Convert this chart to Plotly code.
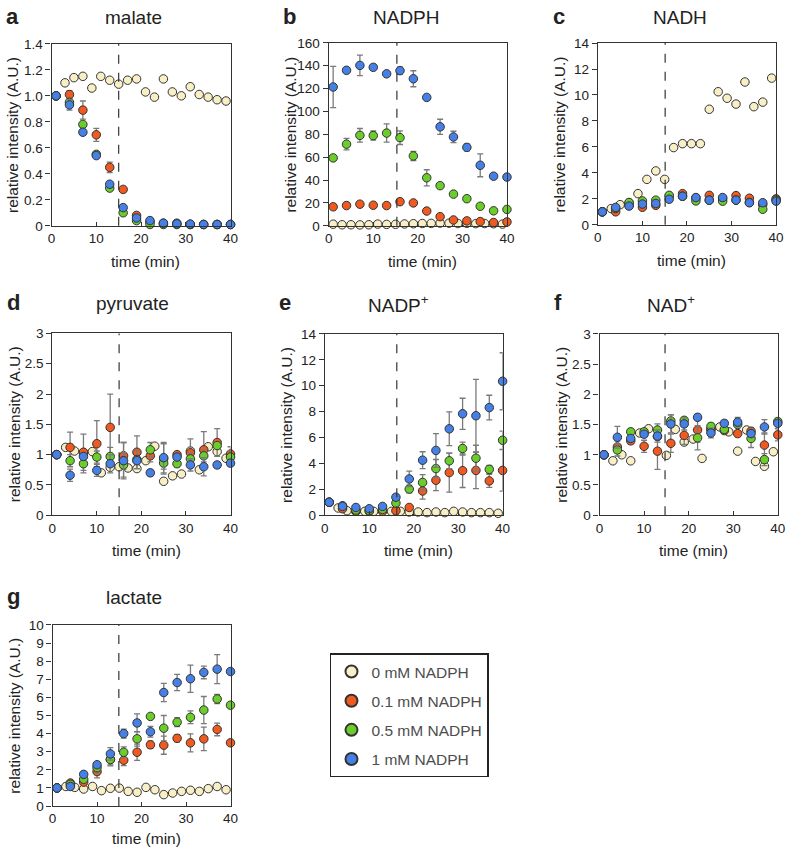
import plotly.graph_objects as go

# ---------------- data ----------------
t_ctrl = [1, 3, 5, 7, 9, 11, 13, 15, 17, 19, 21, 23, 25, 27, 29, 31, 33, 35, 37, 39]
t_trt = [1, 4, 7, 10, 13, 16, 19, 22, 25, 28, 31, 34, 37, 40]
series_names = ["0 mM NADPH", "0.1 mM NADPH", "0.5 mM NADPH", "1 mM NADPH"]
series_colors = ["#F8EFC6", "#F0591F", "#6ACD2A", "#4680E6"]

malate_0 = [1.00, 1.10, 1.14, 1.15, 1.06, 1.15, 1.12, 1.09, 1.12, 1.13, 1.03, 0.99, 1.13, 1.03, 1.00, 1.07, 1.01, 0.99, 0.97, 0.96]
malate_01 = [1.00, 1.01, 0.89, 0.70, 0.45, 0.28, 0.08, 0.03, 0.02, 0.02, 0.01, 0.01, 0.01, 0.01]
malate_05 = [1.00, 0.95, 0.78, 0.55, 0.29, 0.10, 0.04, 0.01, 0.01, 0.01, 0.01, 0.01, 0.01, 0.01]
malate_1 = [1.00, 0.93, 0.72, 0.54, 0.32, 0.14, 0.06, 0.04, 0.02, 0.015, 0.013, 0.01, 0.01, 0.01]
malate_01_err = [0, 0.03, 0.07, 0.05, 0.04, 0.02, 0.02, 0, 0, 0, 0, 0, 0, 0]
malate_05_err = [0, 0.03, 0.02, 0.02, 0.02, 0.01, 0.01, 0, 0, 0, 0, 0, 0, 0]
malate_1_err = [0, 0.04, 0.02, 0.02, 0.02, 0.01, 0.01, 0, 0, 0, 0, 0, 0, 0]

nadph_0 = [1.4, 0.9, 0.9, 0.8, 0.9, 1.5, 1.2, 1.3, 1.6, 1.8, 2.0, 2.1, 2.4, 2.3, 2.0, 2.2, 1.9, 2.0, 1.8, 1.5]
nadph_01 = [16.6, 17.7, 18.9, 18.0, 17.7, 21.1, 20.0, 12.9, 8.0, 5.1, 4.3, 3.7, 2.9, 3.4]
nadph_05 = [59.4, 71.4, 79.1, 78.9, 81.1, 77.1, 61.1, 42.0, 35.1, 27.7, 23.7, 17.1, 13.1, 14.3]
nadph_1 = [121.4, 136.0, 140.3, 138.6, 132.9, 135.7, 128.6, 112.3, 86.6, 77.7, 68.6, 52.9, 43.4, 42.6]
nadph_01_err = [2, 1, 1.5, 1, 1, 2, 1.5, 1, 1, 0.8, 0.6, 0.5, 0.5, 0.5]
nadph_05_err = [2, 5, 6, 4, 8, 6, 4, 7, 2, 1.5, 1.5, 1.5, 1.5, 1]
nadph_1_err = [18, 2, 9, 2, 2, 3, 7, 2, 6.6, 5, 3, 10, 2, 2]

nadh_0 = [1.0, 1.25, 1.55, 1.7, 2.4, 3.5, 4.15, 3.5, 5.95, 6.25, 6.25, 6.25, 8.9, 10.25, 9.75, 9.3, 11.0, 9.1, 9.45, 11.3]
nadh_01 = [1.0, 1.0, 1.5, 1.35, 1.5, 2.2, 2.4, 2.07, 2.27, 2.0, 2.25, 2.05, 1.55, 2.0]
nadh_05 = [1.0, 1.26, 1.72, 1.84, 1.9, 2.27, 2.2, 1.84, 1.9, 1.82, 1.9, 1.72, 1.2, 1.9]
nadh_1 = [1.0, 1.34, 1.44, 1.6, 1.64, 1.97, 2.2, 2.1, 1.9, 2.1, 1.9, 1.7, 1.7, 1.82]
nadh_01_err = [0, 0.15, 0.1, 0.1, 0.1, 0.1, 0.1, 0.1, 0.1, 0.1, 0.1, 0.1, 0.1, 0.15]
nadh_05_err = [0, 0.1, 0.1, 0.15, 0.1, 0.1, 0.1, 0.1, 0.1, 0.1, 0.1, 0.1, 0.1, 0.1]
nadh_1_err = [0, 0.2, 0.1, 0.1, 0.1, 0.1, 0.1, 0.1, 0.1, 0.1, 0.1, 0.1, 0.1, 0.15]

pyruvate_0 = [1.0, 1.12, 1.06, 1.03, 1.05, 0.70, 0.79, 0.80, 0.78, 0.77, 0.90, 1.14, 0.56, 0.65, 0.68, 1.06, 0.75, 1.13, 1.05, 0.94]
pyruvate_01 = [1.0, 1.12, 1.04, 1.18, 1.45, 0.98, 1.04, 0.98, 0.93, 1.0, 1.03, 1.08, 1.2, 1.01]
pyruvate_05 = [1.0, 0.90, 0.85, 0.96, 0.97, 0.83, 0.92, 1.08, 0.86, 0.85, 0.93, 0.98, 1.15, 0.96]
pyruvate_1 = [1.0, 0.66, 0.97, 0.74, 0.85, 0.90, 0.90, 0.70, 0.95, 0.96, 0.83, 0.80, 0.83, 0.86]
pyruvate_01_err = [0, 0.25, 0.3, 0.38, 0.55, 0.22, 0.27, 0.1, 0.25, 0.05, 0.23, 0.3, 0.23, 0.12]
pyruvate_05_err = [0, 0.1, 0.15, 0.1, 0.15, 0.2, 0.15, 0.12, 0.1, 0.05, 0.1, 0.1, 0.05, 0.1]
pyruvate_1_err = [0, 0.1, 0.05, 0.1, 0.15, 0.3, 0.05, 0.05, 0.25, 0.05, 0.1, 0.15, 0.05, 0.05]

nadp_0 = [1.0, 0.56, 0.35, 0.3, 0.3, 0.3, 0.35, 0.3, 0.3, 0.25, 0.25, 0.2, 0.25, 0.2, 0.3, 0.25, 0.2, 0.2, 0.2, 0.15]
nadp_01 = [1.0, 0.5, 0.3, 0.3, 0.3, 0.35, 0.6, 1.87, 2.7, 3.29, 3.44, 3.46, 2.65, 3.46]
nadp_05 = [1.0, 0.73, 0.4, 0.35, 0.45, 0.94, 2.02, 2.53, 3.6, 4.2, 5.15, 4.4, 3.54, 5.79]
nadp_1 = [1.0, 0.68, 0.6, 0.5, 0.68, 1.39, 2.8, 4.25, 5.0, 6.67, 7.83, 7.68, 8.31, 10.34]
nadp_01_err = [0, 0.1, 0.05, 0.05, 0.1, 0.1, 0.1, 0.63, 0.8, 1.5, 1.3, 1.4, 0.5, 1.6]
nadp_05_err = [0, 0.1, 0.05, 0.05, 0.1, 0.1, 0.3, 0.6, 0.7, 0.6, 0.5, 1.0, 0.3, 0.7]
nadp_1_err = [0, 0.1, 0.05, 0.05, 0.1, 0.2, 0.6, 0.65, 1.3, 1.3, 1.2, 2.8, 0.95, 2.2]

nad_0 = [1.0, 0.9, 1.0, 0.9, 1.36, 1.43, 1.3, 0.99, 1.42, 1.21, 1.26, 0.94, 1.43, 1.46, 1.38, 1.06, 1.41, 0.89, 0.81, 1.05]
nad_01 = [1.0, 1.13, 1.23, 1.14, 1.06, 1.19, 1.32, 1.41, 1.41, 1.4, 1.35, 1.39, 1.16, 1.33]
nad_05 = [1.0, 1.08, 1.38, 1.38, 1.41, 1.56, 1.57, 1.28, 1.47, 1.42, 1.5, 1.27, 0.92, 1.55]
nad_1 = [1.0, 1.29, 1.27, 1.34, 1.31, 1.51, 1.51, 1.62, 1.36, 1.52, 1.54, 1.35, 1.46, 1.52]
nad_01_err = [0, 0.1, 0.05, 0.1, 0.3, 0.15, 0.15, 0.2, 0.05, 0.05, 0.05, 0.05, 0.2, 0.1]
nad_05_err = [0, 0.1, 0.05, 0.05, 0.1, 0.1, 0.05, 0.2, 0.05, 0.05, 0.05, 0.15, 0.1, 0.05]
nad_1_err = [0, 0.18, 0.05, 0.05, 0.1, 0.15, 0.1, 0.05, 0.08, 0.05, 0.08, 0.05, 0.12, 0.05]

lactate_0 = [1.0, 1.08, 1.03, 0.94, 1.08, 0.85, 0.98, 0.99, 0.81, 0.76, 1.03, 0.9, 0.63, 0.72, 0.81, 0.87, 0.81, 0.96, 1.08, 0.9]
lactate_01 = [1.0, 1.27, 1.32, 1.9, 2.57, 2.53, 2.97, 3.38, 3.36, 3.74, 3.49, 3.71, 4.23, 3.49]
lactate_05 = [1.0, 1.2, 1.48, 2.12, 2.57, 2.97, 3.71, 4.95, 4.3, 4.63, 4.9, 5.3, 5.91, 5.57]
lactate_1 = [1.0, 1.08, 1.75, 2.28, 2.88, 4.0, 4.59, 4.1, 6.27, 6.82, 7.03, 7.38, 7.56, 7.43]
lactate_01_err = [0, 0.1, 0.1, 0.35, 0.3, 0.3, 0.45, 0.2, 0.5, 0.2, 0.5, 0.65, 0.35, 0.1]
lactate_05_err = [0, 0.1, 0.1, 0.3, 0.35, 0.3, 0.4, 0.1, 0.7, 0.25, 0.35, 0.75, 0.25, 0.1]
lactate_1_err = [0, 0.1, 0.1, 0.15, 0.35, 0.25, 0.5, 0.3, 0.5, 0.45, 0.75, 0.35, 0.8, 0.1]

# ---------------- panels ----------------
W, H = 792, 855
panels = [
    dict(letter="a", title="malate", ctrl=malate_0, trt=[malate_01, malate_05, malate_1],
         err=[malate_01_err, malate_05_err, malate_1_err], ymax=1.4, dtick=0.2,
         ticktext=["0", "0.2", "0.4", "0.6", "0.8", "1.0", "1.2", "1.4"],
         px=(48.3, 230), py=(37.5, 222.7), vline=15.0, tdx=-8, ty=11),
    dict(letter="b", title="NADPH", ctrl=nadph_0, trt=[nadph_01, nadph_05, nadph_1],
         err=[nadph_01_err, nadph_05_err, nadph_1_err], ymax=160, dtick=20, ticktext=None,
         px=(329.7, 510.7), py=(36.5, 222.7), vline=15.3, tdx=-12, ty=11),
    dict(letter="c", title="NADH", ctrl=nadh_0, trt=[nadh_01, nadh_05, nadh_1],
         err=[nadh_01_err, nadh_05_err, nadh_1_err], ymax=14, dtick=2, ticktext=None,
         px=(603, 784), py=(36.7, 221.7), vline=15.1, tdx=-7, ty=11),
    dict(letter="d", title="pyruvate", ctrl=pyruvate_0, trt=[pyruvate_01, pyruvate_05, pyruvate_1],
         err=[pyruvate_01_err, pyruvate_05_err, pyruvate_1_err], ymax=3, dtick=0.5,
         ticktext=["0", "0.5", "1", "1.5", "2", "2.5", "3"],
         px=(49, 230), py=(332.3, 517.3), vline=15.0, tdx=-9, ty=302),
    dict(letter="e", title="NADP<sup>+</sup>", ctrl=nadp_0, trt=[nadp_01, nadp_05, nadp_1],
         err=[nadp_01_err, nadp_05_err, nadp_1_err], ymax=14, dtick=2, ticktext=None,
         px=(325.7, 506.3), py=(332.7, 517.3), vline=16.2, tdx=-15, ty=302),
    dict(letter="f", title="NAD<sup>+</sup>", ctrl=nad_0, trt=[nad_01, nad_05, nad_1],
         err=[nad_01_err, nad_05_err, nad_1_err], ymax=3, dtick=0.5,
         ticktext=["0", "0.5", "1", "1.5", "2", "2.5", "3"],
         px=(604.7, 785.7), py=(332.7, 517.3), vline=14.7, tdx=-18, ty=302),
    dict(letter="g", title="lactate", ctrl=lactate_0, trt=[lactate_01, lactate_05, lactate_1],
         err=[lactate_01_err, lactate_05_err, lactate_1_err], ymax=10, dtick=1, ticktext=None,
         px=(49.3, 230), py=(629, 813.3), vline=14.9, tdx=-8, ty=601),
]

FONT = "Liberation Sans, Arial, sans-serif"
AXC = "#333333"
TXT = "#222222"
fig = go.Figure()
annotations = []
shapes = []
layout_axes = {}
NP = len(panels)

for i, p in enumerate(panels):
    n = "" if i == 0 else str(i + 1)
    xa, ya = "x" + n, "y" + n
    x0, x1 = p["px"]
    y0, y1 = p["py"]
    tickfont = dict(family=FONT, size=13.5, color=TXT)
    layout_axes["xaxis" + n] = dict(
        domain=[x0 / W, x1 / W], range=[0, 40], dtick=10, anchor=ya,
        showline=True, linecolor=AXC, linewidth=1.3, mirror=True,
        ticks="inside", ticklen=4, tickwidth=1, tickcolor=AXC,
        showgrid=False, zeroline=False, tickfont=tickfont)
    nt = int(round(p["ymax"] / p["dtick"])) + 1
    tv = [round(k * p["dtick"], 6) for k in range(nt)]
    yax = dict(domain=[1 - y1 / H, 1 - y0 / H], range=[0, p["ymax"]], anchor=xa,
               showline=True, linecolor=AXC, linewidth=1.3, mirror=True,
               ticks="outside", ticklen=5, tickwidth=1, tickcolor=AXC,
               showgrid=False, zeroline=False, tickfont=tickfont, tickvals=tv)
    if p["ticktext"]:
        yax["ticktext"] = p["ticktext"]
    layout_axes["yaxis" + n] = yax
    # right-side inner ticks (mirror axis)
    rn = str(NP + i + 1)
    layout_axes["yaxis" + rn] = dict(
        domain=[1 - y1 / H, 1 - y0 / H], range=[0, p["ymax"]], anchor=xa,
        overlaying=ya, side="right", showline=False, showticklabels=False,
        ticks="inside", ticklen=4, tickwidth=1, tickcolor=AXC, tickvals=tv,
        showgrid=False, zeroline=False)

    # control series
    fig.add_trace(go.Scatter(
        x=t_ctrl, y=p["ctrl"], xaxis=xa, yaxis=ya, mode="markers",
        name=series_names[0], legendgroup=series_names[0], showlegend=(i == 0),
        cliponaxis=False,
        marker=dict(size=8.5, color=series_colors[0], line=dict(color="#333333", width=1))))
    # treated series
    for k in range(3):
        fig.add_trace(go.Scatter(
            x=t_trt, y=p["trt"][k], xaxis=xa, yaxis=ya, mode="markers",
            name=series_names[k + 1], legendgroup=series_names[k + 1], showlegend=(i == 0),
            cliponaxis=False,
            error_y=dict(type="data", array=p["err"][k], color="#7a7a7a", thickness=1.3, width=3),
            marker=dict(size=8.5, color=series_colors[k + 1], line=dict(color="#333333", width=1))))

    # dashed line
    shapes.append(dict(type="line", xref=xa, yref=ya + " domain", x0=p["vline"], x1=p["vline"],
                       y0=0, y1=1, line=dict(color="#333333", width=1.2, dash="dash")))

    # titles and labels
    cx = (x0 + x1) / 2 + p["tdx"]
    annotations.append(dict(text=p["title"], x=cx / W, y=1 - p["ty"] / H, xref="paper", yref="paper",
                            showarrow=False, xanchor="center", yanchor="middle",
                            font=dict(family=FONT, size=19, color=TXT)))
    annotations.append(dict(text="<b>" + p["letter"] + "</b>", x=(x0 - 48) / W, y=1 - (p["ty"] - 1) / H,
                            xref="paper", yref="paper", showarrow=False, xanchor="left",
                            yanchor="middle", font=dict(family=FONT, size=22, color=TXT)))
    annotations.append(dict(text="relative intensity (A.U.)", x=(x0 - 39) / W,
                            y=1 - ((y0 + y1) / 2) / H, xref="paper", yref="paper",
                            showarrow=False, textangle=-90, xanchor="center", yanchor="middle",
                            font=dict(family=FONT, size=15.5, color=TXT)))
    annotations.append(dict(text="time (min)", x=((x0 + x1) / 2 + 5) / W,
                            y=1 - (y1 + (36 if i < 6 else 33)) / H, xref="paper", yref="paper",
                            showarrow=False, xanchor="center", yanchor="middle",
                            font=dict(family=FONT, size=15.5, color=TXT)))

fig.update_layout(
    width=W, height=H, margin=dict(l=0, r=0, t=0, b=0),
    paper_bgcolor="white", plot_bgcolor="white",
    annotations=annotations, shapes=shapes,
    legend=dict(x=331 / W, y=1 - 658 / H, xanchor="left", yanchor="top",
                bordercolor="#222222", borderwidth=1.5, bgcolor="white",
                font=dict(family=FONT, size=15.5, color="#4d4d4d"),
                tracegroupgap=6, itemsizing="constant", itemwidth=30),
    **layout_axes,
)

fig.write_html("out.html", config={"displayModeBar": False},
               post_script="document.body.style.margin='0';document.body.style.padding='0';")
